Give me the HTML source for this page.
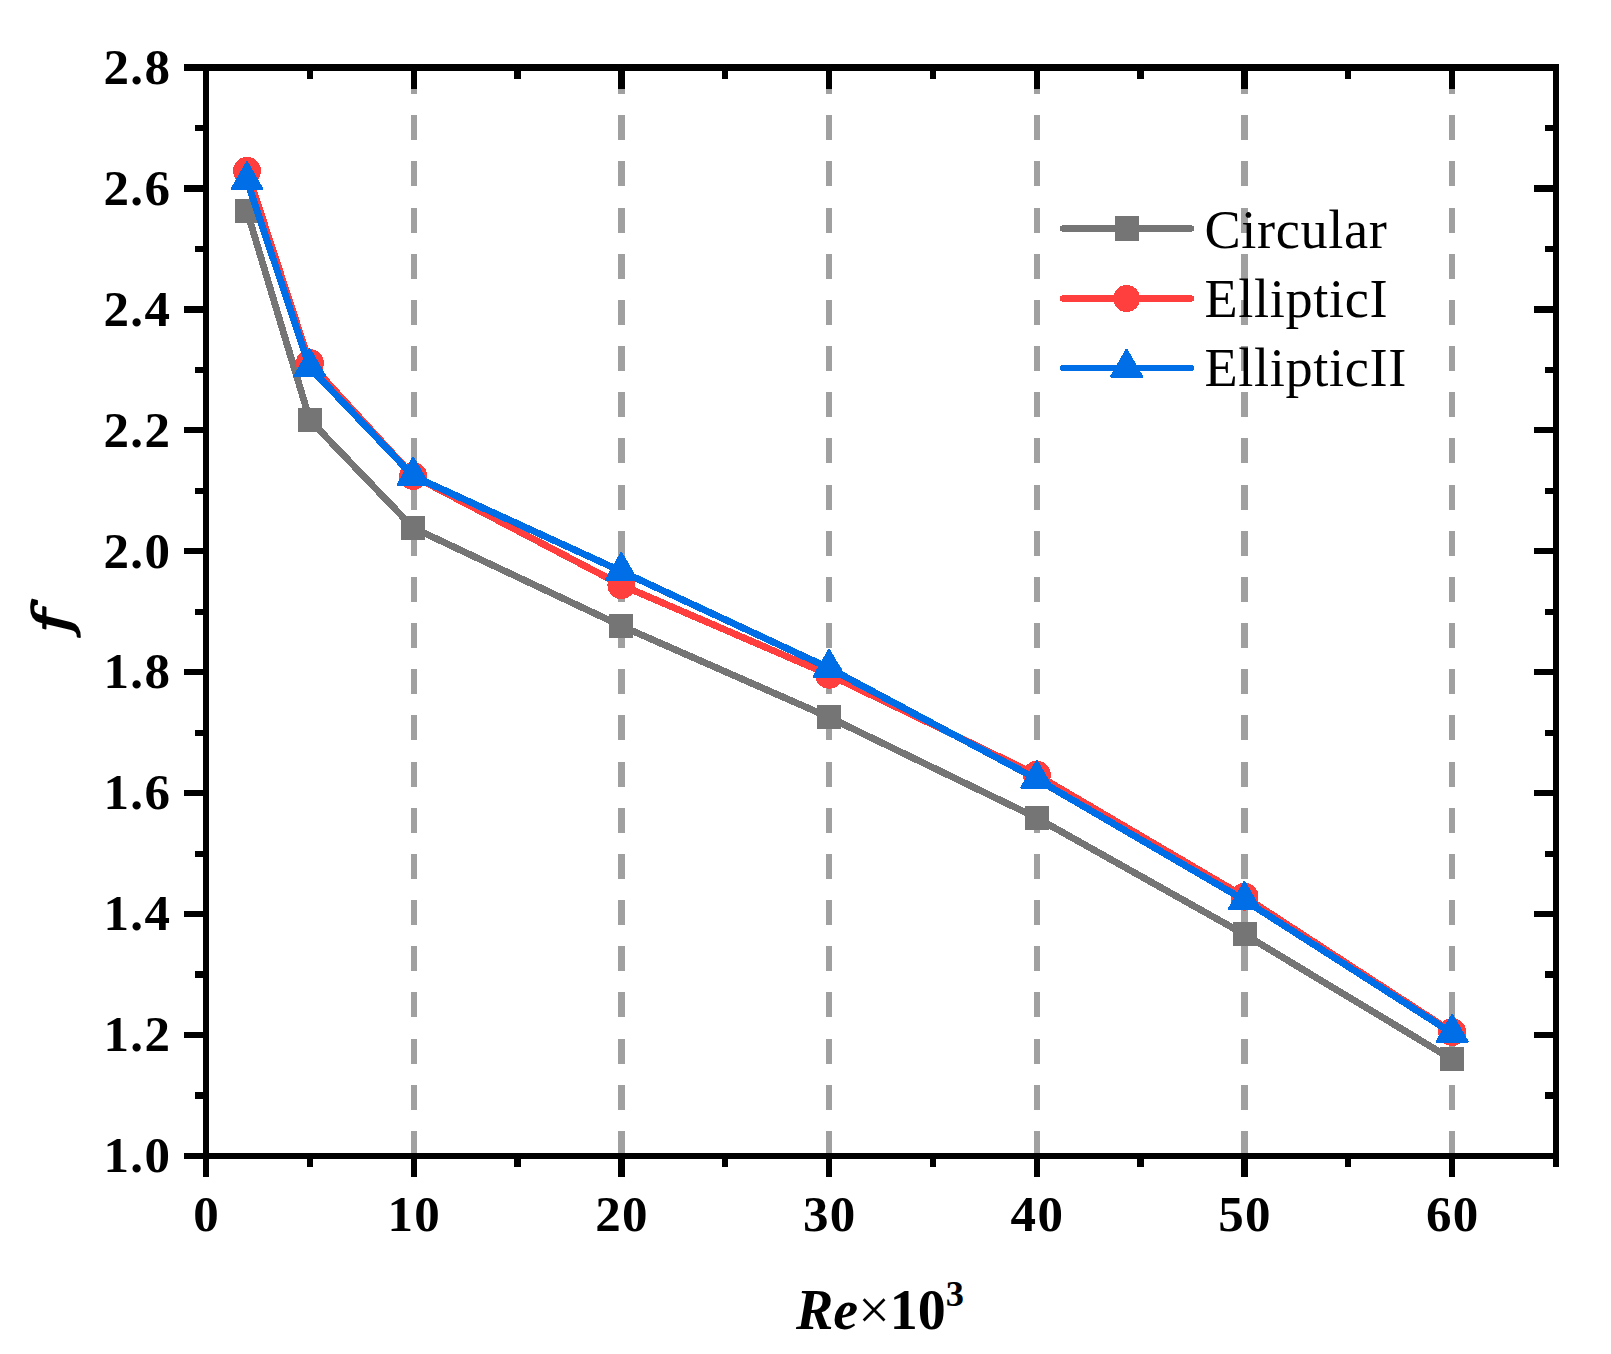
<!DOCTYPE html>
<html lang="en"><head><meta charset="utf-8"><title>f vs Re</title>
<style>html,body{margin:0;padding:0;background:#fff}svg{display:block}text{font-family:"Liberation Serif",serif;fill:#000}.tk{font-size:51px;font-weight:bold;letter-spacing:1.3px}.ti{font-size:56px;font-weight:bold}.lg{font-size:54.3px;letter-spacing:0.65px}</style></head><body>
<svg width="1611" height="1354" viewBox="0 0 1611 1354">
<rect width="1611" height="1354" fill="#fff"/>
<g stroke="#a0a0a0" stroke-width="6.25" stroke-dasharray="25 21.17" fill="none" shape-rendering="crispEdges">
<line x1="413.69" y1="69" x2="413.69" y2="1156.0"/>
<line x1="621.38" y1="69" x2="621.38" y2="1156.0"/>
<line x1="829.08" y1="69" x2="829.08" y2="1156.0"/>
<line x1="1036.77" y1="69" x2="1036.77" y2="1156.0"/>
<line x1="1244.46" y1="69" x2="1244.46" y2="1156.0"/>
<line x1="1452.15" y1="69" x2="1452.15" y2="1156.0"/>
</g>
<g shape-rendering="crispEdges" fill="#757575"><polyline points="247.0,211.0 309.8,420.0 413.2,527.8 621.4,626.0 829.1,717.3 1036.8,817.9 1244.5,934.4 1452.2,1059.4" fill="none" stroke="#757575" stroke-width="6.9" stroke-linejoin="round"/>
<rect x="235.0" y="199.0" width="24" height="24"/>
<rect x="297.8" y="408.0" width="24" height="24"/>
<rect x="401.2" y="515.8" width="24" height="24"/>
<rect x="609.4" y="614.0" width="24" height="24"/>
<rect x="817.1" y="705.3" width="24" height="24"/>
<rect x="1024.8" y="805.9" width="24" height="24"/>
<rect x="1232.5" y="922.4" width="24" height="24"/>
<rect x="1440.2" y="1047.4" width="24" height="24"/>
</g>
<g shape-rendering="crispEdges" fill="#ff3e3e"><polyline points="247.0,170.8 309.8,363.1 413.2,476.0 621.4,585.1 829.1,674.7 1036.8,774.8 1244.5,896.7 1452.2,1032.0" fill="none" stroke="#ff3e3e" stroke-width="6.9" stroke-linejoin="round"/>
<circle cx="247.0" cy="170.8" r="14"/>
<circle cx="309.8" cy="363.1" r="14"/>
<circle cx="413.2" cy="476.0" r="14"/>
<circle cx="621.4" cy="585.1" r="14"/>
<circle cx="829.1" cy="674.7" r="14"/>
<circle cx="1036.8" cy="774.8" r="14"/>
<circle cx="1244.5" cy="896.7" r="14"/>
<circle cx="1452.2" cy="1032.0" r="14"/>
</g>
<g shape-rendering="crispEdges" fill="#006ee6"><polyline points="247.0,180.6 309.8,367.6 413.2,476.0 621.4,571.3 829.1,668.1 1036.8,779.1 1244.5,900.2 1452.2,1033.2" fill="none" stroke="#006ee6" stroke-width="6.9" stroke-linejoin="round"/>
<path d="M247.04 162.50L262.34 189.10H231.74Z" stroke="#006ee6" stroke-width="2.4" stroke-linejoin="round"/>
<path d="M309.85 349.50L325.15 376.10H294.55Z" stroke="#006ee6" stroke-width="2.4" stroke-linejoin="round"/>
<path d="M413.19 457.90L428.49 484.50H397.89Z" stroke="#006ee6" stroke-width="2.4" stroke-linejoin="round"/>
<path d="M621.38 553.20L636.68 579.80H606.08Z" stroke="#006ee6" stroke-width="2.4" stroke-linejoin="round"/>
<path d="M829.08 650.00L844.38 676.60H813.78Z" stroke="#006ee6" stroke-width="2.4" stroke-linejoin="round"/>
<path d="M1036.77 761.00L1052.07 787.60H1021.47Z" stroke="#006ee6" stroke-width="2.4" stroke-linejoin="round"/>
<path d="M1244.46 882.10L1259.76 908.70H1229.16Z" stroke="#006ee6" stroke-width="2.4" stroke-linejoin="round"/>
<path d="M1452.15 1015.10L1467.45 1041.70H1436.85Z" stroke="#006ee6" stroke-width="2.4" stroke-linejoin="round"/>
</g>
<g stroke="#000" stroke-width="6.25" fill="none" stroke-linecap="butt" shape-rendering="crispEdges">
<line x1="184" y1="67.5" x2="1559.125" y2="67.5"/>
<line x1="184" y1="1156.0" x2="1559.125" y2="1156.0"/>
<line x1="206.0" y1="64.375" x2="206.0" y2="1177"/>
<line x1="1556.0" y1="64.375" x2="1556.0" y2="1167"/>
<line x1="206.00" y1="1156.0" x2="206.00" y2="1177"/>
<line x1="206.00" y1="67.5" x2="206.00" y2="89"/>
<line x1="309.85" y1="1156.0" x2="309.85" y2="1167"/>
<line x1="309.85" y1="67.5" x2="309.85" y2="79"/>
<line x1="413.69" y1="1156.0" x2="413.69" y2="1177"/>
<line x1="413.69" y1="67.5" x2="413.69" y2="89"/>
<line x1="517.54" y1="1156.0" x2="517.54" y2="1167"/>
<line x1="517.54" y1="67.5" x2="517.54" y2="79"/>
<line x1="621.38" y1="1156.0" x2="621.38" y2="1177"/>
<line x1="621.38" y1="67.5" x2="621.38" y2="89"/>
<line x1="725.23" y1="1156.0" x2="725.23" y2="1167"/>
<line x1="725.23" y1="67.5" x2="725.23" y2="79"/>
<line x1="829.08" y1="1156.0" x2="829.08" y2="1177"/>
<line x1="829.08" y1="67.5" x2="829.08" y2="89"/>
<line x1="932.92" y1="1156.0" x2="932.92" y2="1167"/>
<line x1="932.92" y1="67.5" x2="932.92" y2="79"/>
<line x1="1036.77" y1="1156.0" x2="1036.77" y2="1177"/>
<line x1="1036.77" y1="67.5" x2="1036.77" y2="89"/>
<line x1="1140.62" y1="1156.0" x2="1140.62" y2="1167"/>
<line x1="1140.62" y1="67.5" x2="1140.62" y2="79"/>
<line x1="1244.46" y1="1156.0" x2="1244.46" y2="1177"/>
<line x1="1244.46" y1="67.5" x2="1244.46" y2="89"/>
<line x1="1348.31" y1="1156.0" x2="1348.31" y2="1167"/>
<line x1="1348.31" y1="67.5" x2="1348.31" y2="79"/>
<line x1="1452.15" y1="1156.0" x2="1452.15" y2="1177"/>
<line x1="1452.15" y1="67.5" x2="1452.15" y2="89"/>
<line x1="1556.00" y1="1156.0" x2="1556.00" y2="1167"/>
<line x1="1556.00" y1="67.5" x2="1556.00" y2="79"/>
<line x1="184" y1="1156.00" x2="206.0" y2="1156.00"/>
<line x1="1534" y1="1156.00" x2="1556.0" y2="1156.00"/>
<line x1="195" y1="1095.53" x2="206.0" y2="1095.53"/>
<line x1="1545" y1="1095.53" x2="1556.0" y2="1095.53"/>
<line x1="184" y1="1035.06" x2="206.0" y2="1035.06"/>
<line x1="1534" y1="1035.06" x2="1556.0" y2="1035.06"/>
<line x1="195" y1="974.58" x2="206.0" y2="974.58"/>
<line x1="1545" y1="974.58" x2="1556.0" y2="974.58"/>
<line x1="184" y1="914.11" x2="206.0" y2="914.11"/>
<line x1="1534" y1="914.11" x2="1556.0" y2="914.11"/>
<line x1="195" y1="853.64" x2="206.0" y2="853.64"/>
<line x1="1545" y1="853.64" x2="1556.0" y2="853.64"/>
<line x1="184" y1="793.17" x2="206.0" y2="793.17"/>
<line x1="1534" y1="793.17" x2="1556.0" y2="793.17"/>
<line x1="195" y1="732.69" x2="206.0" y2="732.69"/>
<line x1="1545" y1="732.69" x2="1556.0" y2="732.69"/>
<line x1="184" y1="672.22" x2="206.0" y2="672.22"/>
<line x1="1534" y1="672.22" x2="1556.0" y2="672.22"/>
<line x1="195" y1="611.75" x2="206.0" y2="611.75"/>
<line x1="1545" y1="611.75" x2="1556.0" y2="611.75"/>
<line x1="184" y1="551.28" x2="206.0" y2="551.28"/>
<line x1="1534" y1="551.28" x2="1556.0" y2="551.28"/>
<line x1="195" y1="490.81" x2="206.0" y2="490.81"/>
<line x1="1545" y1="490.81" x2="1556.0" y2="490.81"/>
<line x1="184" y1="430.33" x2="206.0" y2="430.33"/>
<line x1="1534" y1="430.33" x2="1556.0" y2="430.33"/>
<line x1="195" y1="369.86" x2="206.0" y2="369.86"/>
<line x1="1545" y1="369.86" x2="1556.0" y2="369.86"/>
<line x1="184" y1="309.39" x2="206.0" y2="309.39"/>
<line x1="1534" y1="309.39" x2="1556.0" y2="309.39"/>
<line x1="195" y1="248.92" x2="206.0" y2="248.92"/>
<line x1="1545" y1="248.92" x2="1556.0" y2="248.92"/>
<line x1="184" y1="188.44" x2="206.0" y2="188.44"/>
<line x1="1534" y1="188.44" x2="1556.0" y2="188.44"/>
<line x1="195" y1="127.97" x2="206.0" y2="127.97"/>
<line x1="1545" y1="127.97" x2="1556.0" y2="127.97"/>
<line x1="184" y1="67.50" x2="206.0" y2="67.50"/>
<line x1="1534" y1="67.50" x2="1556.0" y2="67.50"/>
</g>
<g class="tk" text-anchor="end">
<text x="171.2" y="1172.2">1.0</text>
<text x="171.2" y="1051.3">1.2</text>
<text x="171.2" y="930.3">1.4</text>
<text x="171.2" y="809.4">1.6</text>
<text x="171.2" y="688.4">1.8</text>
<text x="171.2" y="567.5">2.0</text>
<text x="171.2" y="446.5">2.2</text>
<text x="171.2" y="325.6">2.4</text>
<text x="171.2" y="204.6">2.6</text>
<text x="171.2" y="83.7">2.8</text>
</g>
<g class="tk" text-anchor="middle">
<text x="206.6" y="1231.2">0</text>
<text x="414.3" y="1231.2">10</text>
<text x="622.0" y="1231.2">20</text>
<text x="829.7" y="1231.2">30</text>
<text x="1037.4" y="1231.2">40</text>
<text x="1245.1" y="1231.2">50</text>
<text x="1452.8" y="1231.2">60</text>
</g>
<text class="ti" x="796" y="1329"><tspan font-style="italic">Re</tspan><tspan font-weight="normal">×</tspan>10<tspan font-size="36.4px" dy="-23">3</tspan></text>
<text font-family="DejaVu Serif,Liberation Serif,serif" font-style="italic" font-size="49.5px" stroke="#000" stroke-width="1.6" stroke-linejoin="round" style="font-family:'DejaVu Serif','Liberation Serif',serif" transform="translate(69 633) rotate(-90) scale(1.3 1)">f</text>
<line x1="1063" y1="228.5" x2="1191" y2="228.5" stroke="#757575" stroke-width="6.25" stroke-linecap="round" shape-rendering="crispEdges"/>
<rect x="1115" y="216.2" width="24" height="24.6" fill="#757575" shape-rendering="crispEdges"/>
<text class="lg" x="1204.4" y="247.8">Circular</text>
<line x1="1063" y1="298.5" x2="1191" y2="298.5" stroke="#ff3e3e" stroke-width="6.25" stroke-linecap="round" shape-rendering="crispEdges"/>
<circle cx="1126.6" cy="298.5" r="13.5" fill="#ff3e3e" shape-rendering="crispEdges"/>
<text class="lg" x="1204.4" y="317.1">EllipticI</text>
<line x1="1063" y1="368.0" x2="1191" y2="368.0" stroke="#006ee6" stroke-width="6.25" stroke-linecap="round" shape-rendering="crispEdges"/>
<g fill="#006ee6" shape-rendering="crispEdges"><path d="M1126.60 349.90L1141.90 376.50H1111.30Z" stroke="#006ee6" stroke-width="2.4" stroke-linejoin="round"/></g>
<text class="lg" x="1204.4" y="386.3">EllipticII</text>
</svg></body></html>
